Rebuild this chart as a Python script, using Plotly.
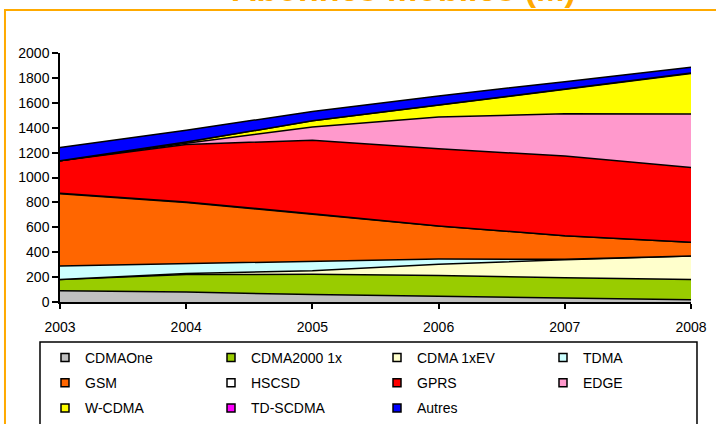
import plotly.graph_objects as go

years = [2003, 2004, 2005, 2006, 2007, 2008]

series_names = ["CDMAOne", "CDMA2000 1x", "CDMA 1xEV", "TDMA", "GSM", "HSCSD",
                "GPRS", "EDGE", "W-CDMA", "TD-SCDMA", "Autres"]

cdmaone   = [90, 80, 60, 45, 28, 18]
cdma2000  = [90, 140, 162, 168, 167, 162]
cdma1xev  = [0, 8, 30, 90, 145, 190]
tdma      = [110, 82, 78, 42, 3, 0]
gsm       = [580, 490, 375, 265, 190, 110]
hscsd     = [4, 4, 3, 0, 0, 0]
gprs      = [261, 461, 592, 620, 640, 600]
edge      = [0, 10, 105, 255, 340, 430]
wcdma     = [0, 10, 50, 95, 192, 325]
tdscdma   = [0, 0, 0, 2, 3, 4]
autres    = [105, 95, 75, 73, 62, 46]

series_values = [cdmaone, cdma2000, cdma1xev, tdma, gsm, hscsd,
                 gprs, edge, wcdma, tdscdma, autres]

colors = ["#C0C0C0", "#99CC00", "#FFFFCC", "#CCFFFF", "#FF6600", "#FFFFFF",
          "#FF0000", "#FF99CC", "#FFFF00", "#FF00FF", "#0000FF"]

y_ticks = list(range(0, 2001, 200))
title_text = "Abonnés mobiles (M)"

FONT = "Liberation Sans, Arial, sans-serif"
W, H = 716, 424

fig = go.Figure()

for name, vals, col in zip(series_names, series_values, colors):
    fig.add_trace(go.Scatter(
        x=years, y=vals, name=name, stackgroup="one", mode="lines",
        line=dict(color="black", width=1.5), fillcolor=col,
        showlegend=False, hoverinfo="skip"))

# legend entries laid out in 4 columns (row-major order like the reference)
legend_ids = ["legend", "legend2", "legend3", "legend4"]
for i, (name, col) in enumerate(zip(series_names, colors)):
    fig.add_trace(go.Scatter(
        x=[None], y=[None], name=name, mode="markers",
        legend=legend_ids[i % 4], legendgroup="g%d" % i,
        marker=dict(symbol="square", size=8, color=col,
                    line=dict(color="black", width=1.5)),
        showlegend=True))

legend_common = dict(
    orientation="v", xref="container", yref="container",
    xanchor="left", yanchor="top", borderwidth=0, bgcolor="rgba(0,0,0,0)",
    tracegroupgap=4, font=dict(family=FONT, size=14, color="black"),
    traceorder="grouped")

layout_legends = {}
for k, lid in enumerate(legend_ids):
    layout_legends[lid] = dict(legend_common, x=(45 + 166 * k) / W, y=1 - 342 / H)

fig.update_layout(
    width=W, height=H,
    margin=dict(l=60, r=25, t=53, b=122, autoexpand=False),
    paper_bgcolor="white", plot_bgcolor="white",
    font=dict(family=FONT, size=14, color="black"),
    showlegend=True,
    xaxis=dict(range=[2003, 2008], tickvals=years, ticktext=[str(y) for y in years],
               showgrid=False, zeroline=False, showline=True, linecolor="black",
               linewidth=1.5, ticks="outside", ticklen=5, tickwidth=1.5,
               tickcolor="black", ticklabelstandoff=6),
    yaxis=dict(range=[0, 2000], tickvals=y_ticks,
               showgrid=False, zeroline=False, showline=True, linecolor="black",
               linewidth=1.5, ticks="outside", ticklen=6, tickwidth=1.5,
               tickcolor="black"),
    shapes=[dict(type="rect", xref="paper", yref="paper",
                 x0=-0.0872, x1=1.2, y0=-0.6, y1=1.1727,
                 line=dict(color="#FFAA00", width=2), layer="below"),
            dict(type="rect", xref="paper", yref="paper",
                 x0=-0.0317, x1=1.0095, y0=-0.6, y1=-0.1606,
                 line=dict(color="black", width=1.5), layer="below")],
    annotations=[dict(text="<b>" + title_text + "</b>", xref="paper", yref="paper",
                      x=0.545, y=1.259, xanchor="center", yanchor="middle",
                      showarrow=False,
                      font=dict(family=FONT, size=34, color="#FFAA00"))],
    **layout_legends,
)

fig.write_html("out.html")
